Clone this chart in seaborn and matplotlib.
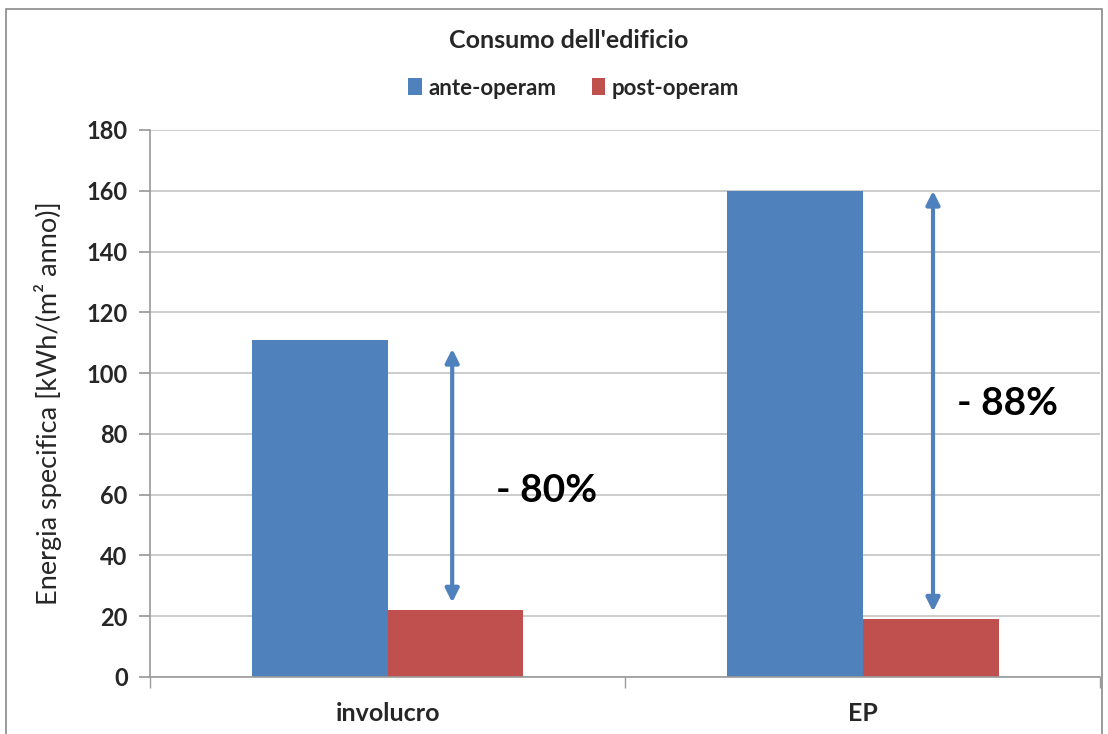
import matplotlib
matplotlib.use("Agg")
import matplotlib.pyplot as plt
import seaborn as sns
import pandas as pd
from matplotlib.patches import Rectangle

# Data
categories = ["involucro", "EP"]
series = ["ante-operam", "post-operam"]
ante_operam = [111, 160]
post_operam = [22, 19]
reduction_labels = ["- 80%", "- 88%"]
yticks = [0, 20, 40, 60, 80, 100, 120, 140, 160, 180]

colors = {"ante-operam": "#4F81BD", "post-operam": "#C0504D"}

df = pd.DataFrame({
    "categoria": categories * 2,
    "serie": [series[0]] * 2 + [series[1]] * 2,
    "valore": ante_operam + post_operam,
})

sns.set_theme(style="white")
plt.rcParams["font.family"] = ["Lato", "DejaVu Sans"]

fig = plt.figure(figsize=(11.08, 7.34), dpi=100)
ax = fig.add_axes([0.1354, 0.0777, 0.993 - 0.1354, 0.8229 - 0.0777])

sns.barplot(data=df, x="categoria", y="valore", hue="serie",
            palette=colors, width=0.572, gap=0, saturation=1,
            edgecolor="none", ax=ax, legend=True)

ax.set_xlim(-0.5, 1.5)
ax.set_ylim(0, 180)
ax.set_yticks(yticks)
ax.set_yticklabels([str(t) for t in yticks], fontsize=17, fontweight="bold")
ax.yaxis.grid(True, color="#c4c4c4", linewidth=1.2)
ax.set_axisbelow(True)

ax.set_xlabel("")
ax.set_ylabel("Energia specifica [kWh/(m² anno)]", fontsize=19.5, labelpad=18)
ax.set_xticks(range(len(categories)))
ax.set_xticklabels(categories, fontsize=18, fontweight="bold")
ax.set_xticks([-0.5, 0.5, 1.5], minor=True)
ax.tick_params(axis="x", which="major", length=0, pad=18)
ax.tick_params(axis="x", which="minor", length=8, color="#9a9a9a", direction="out", bottom=True)
ax.tick_params(axis="y", length=8, color="#9a9a9a", direction="out", left=True, pad=8)

for side in ["top", "right"]:
    ax.spines[side].set_visible(False)
for side in ["left", "bottom"]:
    ax.spines[side].set_color("#9a9a9a")
    ax.spines[side].set_linewidth(1.2)

# Reduction arrows and labels
arrow_x = [0.136, 1.148]
arrow_top = [108, 160]
arrow_bottom = [24.5, 21.5]
label_x = [0.335, 1.305]
label_y = [61.5, 90]
for i in range(len(categories)):
    ax.annotate("", xy=(arrow_x[i], arrow_bottom[i]), xytext=(arrow_x[i], arrow_top[i]),
                arrowprops=dict(arrowstyle="<|-|>", color="#4F81BD", lw=3,
                                mutation_scale=20, shrinkA=0, shrinkB=0))
    ax.text(label_x[i], label_y[i], reduction_labels[i], fontsize=28,
            fontweight="bold", ha="center", va="center", color="black")

# Legend and title
handles, labels = ax.get_legend_handles_labels()
ax.legend(handles, labels, loc="center", bbox_to_anchor=(0.518, 0.880),
          bbox_transform=fig.transFigure, ncol=2, frameon=False,
          handlelength=0.6, handleheight=0.8, handletextpad=0.3,
          columnspacing=1.6, prop={"size": 16, "weight": "bold"})
fig.text(0.513, 0.945, "Consumo dell'edificio", ha="center", va="center",
         fontsize=18, fontweight="bold")

# Chart frame
fig.patches.append(Rectangle((0.005, -0.01), 0.99, 0.998, transform=fig.transFigure,
                             fill=False, edgecolor="#8a8a8a", linewidth=1.2))

fig.savefig("out.png", dpi=100)
